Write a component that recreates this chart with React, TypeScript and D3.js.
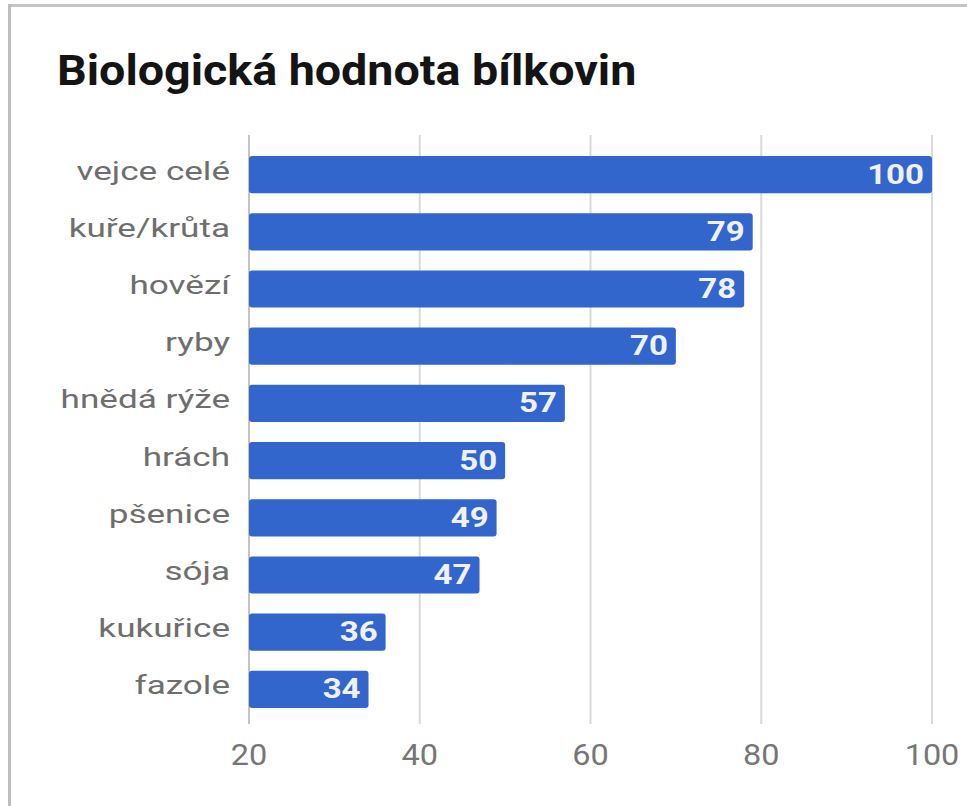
import React from "react";
import * as d3 from "d3";

const categories = ["vejce celé", "kuře/krůta", "hovězí", "ryby", "hnědá rýže", "hrách", "pšenice", "sója", "kukuřice", "fazole"];
const values = [100, 79, 78, 70, 57, 50, 49, 47, 36, 34];
const ticks = [20, 40, 60, 80, 100];
const title = "Biologická hodnota bílkovin";

const W = 967;
const H = 806;

export default function App() {
  const x = d3.scaleLinear().domain([20, 100]).range([249, 932]);
  const y = d3.scaleBand<string>().domain(categories).range([146, 718]).paddingInner(0.35).paddingOuter(0.175);
  const font = "Roboto, 'Noto Sans', Arial, sans-serif";
  return (
    <svg width={W} height={H} style={{ position: "absolute", left: 0, top: 0, background: "#fff" }}>
      <rect x={0} y={0} width={W} height={H} fill="#fff" />
      <line x1={8} x2={W} y1={5.5} y2={5.5} stroke="#c4c4c4" strokeWidth={3} />
      <line x1={9.5} x2={9.5} y1={4} y2={H} stroke="#bdbdbd" strokeWidth={3} />
      <text transform="translate(57,85) scale(1.11,1)" fontFamily={font} fontWeight={700} fontSize={42} fill="#141414">{title}</text>
      {ticks.map((t) => (
        <g key={t}>
          <line x1={x(t)} x2={x(t)} y1={135} y2={724} stroke={t === 20 ? "#c4c4c4" : "#dadada"} strokeWidth={2} />
          <text transform={`translate(${x(t)},765) scale(1.12,1)`} textAnchor="middle" fontFamily={font} fontSize={29} fill="#767676">{t}</text>
        </g>
      ))}
      {categories.map((c, i) => {
        const yy = y(c)!;
        const bw = y.bandwidth();
        const cy = yy + bw / 2;
        return (
          <g key={c}>
            <rect x={x(20)} y={yy} width={x(values[i]) - x(20)} height={bw} rx={3} fill="#3366cc" />
            <text transform={`translate(230,${cy + 5}) scale(1.35,1)`} textAnchor="end" fontFamily={font} fontSize={26} fill="#6e6e6e">{c}</text>
            <text transform={`translate(${x(values[i]) - 8},${cy + 9}) scale(1.18,1)`} textAnchor="end" fontFamily={font} fontWeight={700} fontSize={28} fill="#eef1f8">{values[i]}</text>
          </g>
        );
      })}
    </svg>
  );
}
